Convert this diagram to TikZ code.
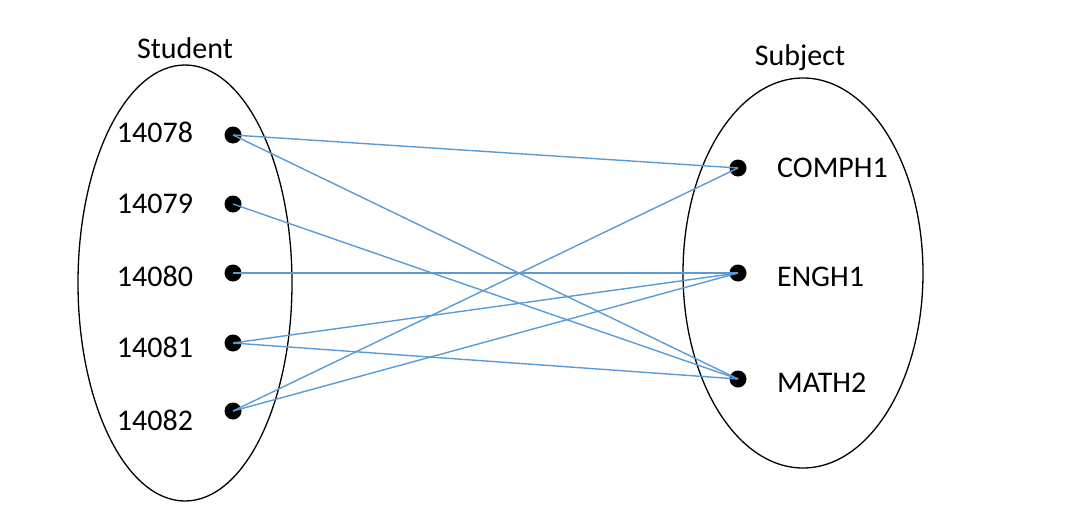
\documentclass[tikz,border=0pt]{standalone}
\usepackage{fontspec}
\setmainfont{Carlito}
\begin{document}
\begin{tikzpicture}[x=1pt,y=-1pt,
  dot/.style={circle,fill=black,inner sep=0pt,minimum size=17pt},
  lbl/.style={font=\fontsize{30}{34}\selectfont,inner sep=0pt},
  link/.style={draw=linkblue,line width=1.4pt},
  set/.style={draw=black,line width=1.3pt}]
\definecolor{linkblue}{RGB}{91,155,213}
\useasboundingbox (0,0) rectangle (1066,514);
\draw[set] (185,283) ellipse [x radius=107, y radius=218];
\draw[set] (803,273) ellipse [x radius=120, y radius=195];
\node[lbl] (tS) at (185,48) {Student};
\node[lbl] (tJ) at (800,58) {Subject};
\node[lbl] (l1) at (155,132) {14078};
\node[lbl] (l2) at (155,204) {14079};
\node[lbl] (l3) at (155,276) {14080};
\node[lbl] (l4) at (155,347) {14081};
\node[lbl] (l5) at (155,420) {14082};
\node[lbl,anchor=west] (r1) at (777,168) {COMPH1};
\node[lbl,anchor=west] (r2) at (777,277) {ENGH1};
\node[lbl,anchor=west] (r3) at (777,383) {MATH2};
\node[dot] (a1) at (233,135) {};
\node[dot] (a2) at (233,204) {};
\node[dot] (a3) at (233,273) {};
\node[dot] (a4) at (233,343) {};
\node[dot] (a5) at (233,411) {};
\node[dot] (b1) at (738,168) {};
\node[dot] (b2) at (738,273) {};
\node[dot] (b3) at (738,379) {};
\draw[link] (a1.center) -- (b1.center);
\draw[link] (a1.center) -- (b3.center);
\draw[link] (a2.center) -- (b3.center);
\draw[link] (a3.center) -- (b2.center);
\draw[link] (a4.center) -- (b2.center);
\draw[link] (a4.center) -- (b3.center);
\draw[link] (a5.center) -- (b1.center);
\draw[link] (a5.center) -- (b2.center);
\end{tikzpicture}
\end{document}
